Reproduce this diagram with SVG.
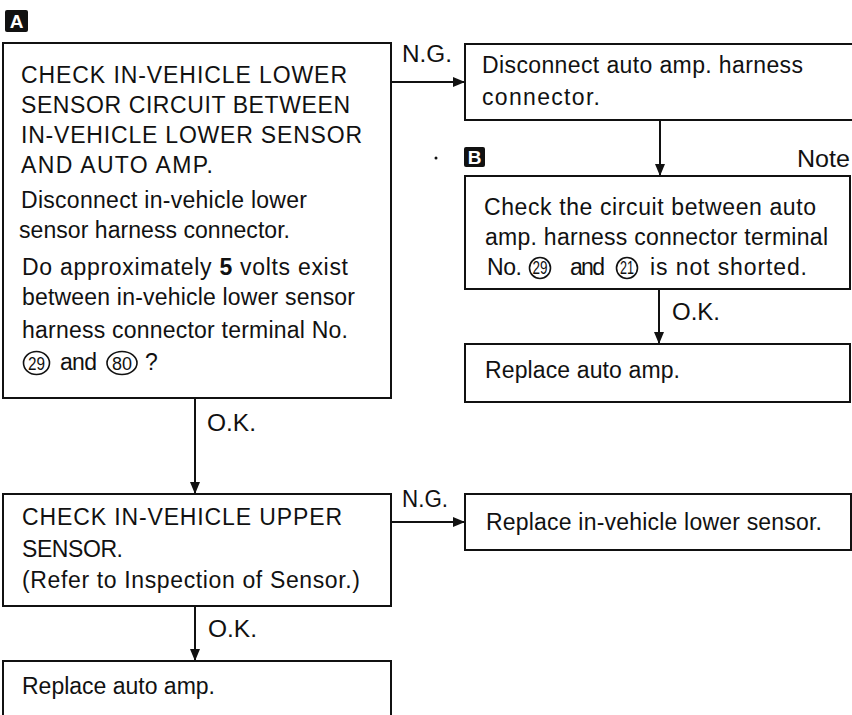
<svg xmlns="http://www.w3.org/2000/svg" width="852" height="715" viewBox="0 0 852 715">
<style>
.box{fill:#fff;stroke:#111;stroke-width:2}
.t{font-family:"Liberation Sans",Arial,sans-serif;font-size:23px;fill:#111}
.n{font-family:"Liberation Sans",Arial,sans-serif;font-size:18px;fill:#111}
.c{fill:none;stroke:#111;stroke-width:1.6}
.e{stroke:#111;stroke-width:2;fill:none}
.lbl{fill:#111}
.lt{font-family:"Liberation Sans",Arial,sans-serif;font-size:19px;font-weight:bold;fill:#fff}
</style>
<defs>
<marker id="ah" markerUnits="userSpaceOnUse" markerWidth="12" markerHeight="10" refX="12" refY="5" orient="auto">
<path d="M0,0 L12,5 L0,10 z" fill="#111"/>
</marker>
</defs>
<rect width="852" height="715" fill="#fff"/>

<g id="labelA">
<rect class="lbl" x="5" y="10" width="23" height="22" rx="2"/>
<text class="lt" x="16.5" y="28" text-anchor="middle">A</text>
</g>
<g id="labelB">
<rect class="lbl" x="464" y="147" width="21" height="20" rx="2"/>
<text class="lt" x="474.5" y="164" text-anchor="middle">B</text>
</g>
<circle cx="436" cy="158" r="1.5" fill="#111"/>
<g id="note"><text class="t" x="797" y="167" textLength="53" lengthAdjust="spacingAndGlyphs">Note</text></g>

<g id="connectors">
<line class="e" x1="391" y1="82" x2="465" y2="82" marker-end="url(#ah)"/>
<line class="e" x1="660" y1="120" x2="660" y2="176" marker-end="url(#ah)"/>
<line class="e" x1="659" y1="289" x2="659" y2="344" marker-end="url(#ah)"/>
<line class="e" x1="195" y1="398" x2="195" y2="494" marker-end="url(#ah)"/>
<line class="e" x1="391" y1="522" x2="465" y2="522" marker-end="url(#ah)"/>
<line class="e" x1="195" y1="606" x2="195" y2="661" marker-end="url(#ah)"/>
<text class="t" x="402" y="62" textLength="50" lengthAdjust="spacingAndGlyphs">N.G.</text>
<text class="t" x="402" y="507" textLength="46" lengthAdjust="spacingAndGlyphs">N.G.</text>
<text class="t" x="207" y="431" textLength="49" lengthAdjust="spacingAndGlyphs">O.K.</text>
<text class="t" x="672" y="320" textLength="48" lengthAdjust="spacingAndGlyphs">O.K.</text>
<text class="t" x="208" y="637" textLength="49" lengthAdjust="spacingAndGlyphs">O.K.</text>
</g>

<g id="nodeA">
<rect class="box" x="3" y="43" width="388" height="355"/>
<text class="t" x="21" y="83" textLength="326" lengthAdjust="spacing">CHECK IN-VEHICLE LOWER</text>
<text class="t" x="21" y="113" textLength="329" lengthAdjust="spacing">SENSOR CIRCUIT BETWEEN</text>
<text class="t" x="21" y="143" textLength="341" lengthAdjust="spacing">IN-VEHICLE LOWER SENSOR</text>
<text class="t" x="21" y="173" textLength="192" lengthAdjust="spacing">AND AUTO AMP.</text>
<text class="t" x="21" y="208" textLength="286" lengthAdjust="spacing">Disconnect in-vehicle lower</text>
<text class="t" x="19" y="238" textLength="271" lengthAdjust="spacing">sensor harness connector.</text>
<text class="t" x="22" y="275" textLength="326" lengthAdjust="spacing">Do approximately <tspan font-weight="bold">5</tspan> volts exist</text>
<text class="t" x="22" y="305" textLength="333" lengthAdjust="spacing">between in-vehicle lower sensor</text>
<text class="t" x="22" y="338" textLength="326" lengthAdjust="spacing">harness connector terminal No.</text>
<ellipse class="c" cx="36.5" cy="363" rx="13" ry="11.5"/>
<text class="n" x="36.5" y="369.5" text-anchor="middle" textLength="17" lengthAdjust="spacingAndGlyphs">29</text>
<text class="t" x="60" y="370" textLength="37" lengthAdjust="spacing">and</text>
<ellipse class="c" cx="122" cy="363" rx="15" ry="11.5"/>
<text class="n" x="122" y="369.5" text-anchor="middle" textLength="20" lengthAdjust="spacingAndGlyphs">80</text>
<text class="t" x="145" y="370">?</text>
</g>

<g id="node1">
<rect class="box" x="465" y="44" width="395" height="76"/>
<text class="t" x="482" y="73" textLength="321" lengthAdjust="spacing">Disconnect auto amp. harness</text>
<text class="t" x="482" y="105" textLength="118" lengthAdjust="spacing">connector.</text>
</g>

<g id="nodeB">
<rect class="box" x="465" y="176" width="385" height="113"/>
<text class="t" x="484" y="215" textLength="332" lengthAdjust="spacing">Check the circuit between auto</text>
<text class="t" x="485" y="245" textLength="343" lengthAdjust="spacing">amp. harness connector terminal</text>
<text class="t" x="487" y="275" textLength="35" lengthAdjust="spacing">No.</text>
<circle class="c" cx="540" cy="268" r="10.5"/>
<text class="n" x="540" y="274" text-anchor="middle" textLength="15" lengthAdjust="spacingAndGlyphs">29</text>
<text class="t" x="570" y="275" textLength="35" lengthAdjust="spacing">and</text>
<circle class="c" cx="627" cy="268" r="10.5"/>
<text class="n" x="627" y="274" text-anchor="middle" textLength="14" lengthAdjust="spacingAndGlyphs">21</text>
<text class="t" x="650" y="275" textLength="157" lengthAdjust="spacing">is not shorted.</text>
</g>

<g id="nodeC">
<rect class="box" x="465" y="344" width="385" height="58"/>
<text class="t" x="485" y="378" textLength="195" lengthAdjust="spacing">Replace auto amp.</text>
</g>

<g id="nodeD">
<rect class="box" x="3" y="494" width="388" height="112"/>
<text class="t" x="22" y="525" textLength="320" lengthAdjust="spacing">CHECK IN-VEHICLE UPPER</text>
<text class="t" x="22" y="557" textLength="101" lengthAdjust="spacing">SENSOR.</text>
<text class="t" x="22" y="588" textLength="338" lengthAdjust="spacing">(Refer to Inspection of Sensor.)</text>
</g>

<g id="nodeE">
<rect class="box" x="465" y="494" width="386" height="56"/>
<text class="t" x="486" y="530" textLength="336" lengthAdjust="spacing">Replace in-vehicle lower sensor.</text>
</g>

<g id="nodeF">
<rect class="box" x="3" y="661" width="388" height="70"/>
<text class="t" x="22" y="694" textLength="193" lengthAdjust="spacing">Replace auto amp.</text>
</g>
</svg>
